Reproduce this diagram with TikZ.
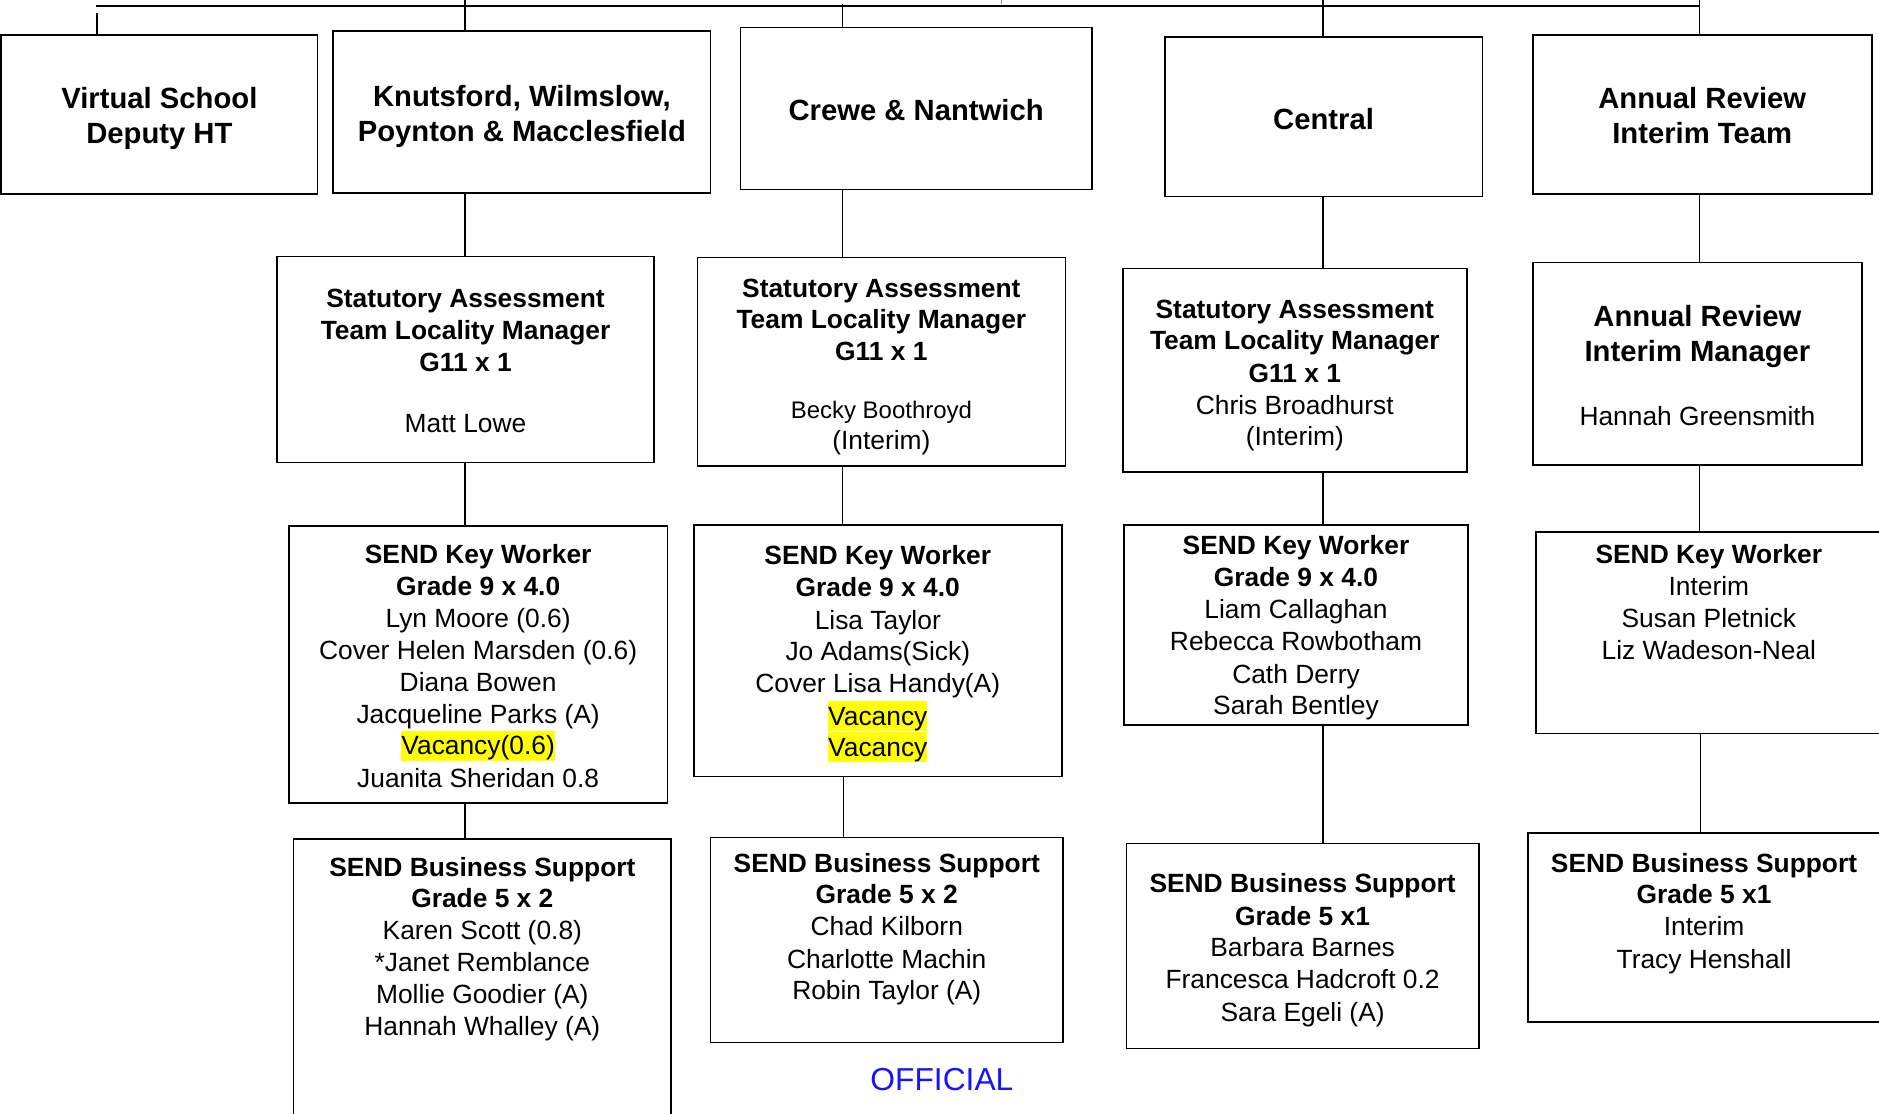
\documentclass[tikz,border=0pt]{standalone}
\usepackage{fontspec}
\setmainfont{Liberation Sans}
\definecolor{offblue}{RGB}{20,20,255}
\definecolor{hl}{RGB}{255,255,0}
\definecolor{tickblue}{RGB}{91,155,213}
\tikzset{
  box/.style={draw, line width=1.4pt, inner sep=0pt},
  conn/.style={line width=1.2pt},
  txt/.style={anchor=base, inner sep=0pt},
  hd/.style={txt, font=\fontsize{24.4}{29}\bfseries},
  bd/.style={txt, font=\fontsize{22}{26.6}\bfseries},
  rg/.style={txt, font=\fontsize{22}{26.6}\selectfont},
  sm/.style={txt, font=\fontsize{20}{24}\selectfont},
  hlt/.style={fill=hl, text height=19.9pt, text depth=4.7pt},
}
\begin{document}
\begin{tikzpicture}[x=1pt,y=-1pt]
\useasboundingbox (0,0) rectangle (1568,929.6);
\clip (0,0) rectangle (1568,929.6);

% ---------- boxes ----------
\node[box, minimum width=264pt, minimum height=133pt] (vs) at (133,95.5) {};
\node[box, minimum width=315pt, minimum height=135pt] (kn) at (435.5,93.5) {};
\node[box, minimum width=293pt, minimum height=135pt] (cr) at (764.5,90.5) {};
\node[box, minimum width=265pt, minimum height=133pt] (ce) at (1104.5,97.5) {};
\node[box, minimum width=283pt, minimum height=133pt] (ar) at (1420.5,95.5) {};

\node[box, minimum width=315pt, minimum height=172pt] (sat1) at (388.5,300) {};
\node[box, minimum width=307pt, minimum height=174pt] (sat2) at (735.5,302) {};
\node[box, minimum width=287pt, minimum height=170pt] (sat3) at (1080.5,309) {};
\node[box, minimum width=275pt, minimum height=169pt] (arim) at (1416.5,303.5) {};

\node[box, minimum width=316pt, minimum height=231pt] (skw1) at (399,554.5) {};
\node[box, minimum width=307pt, minimum height=210pt] (skw2) at (732.5,543) {};
\node[box, minimum width=287pt, minimum height=167pt] (skw3) at (1081.5,521.5) {};
\node[box, minimum width=288pt, minimum height=168pt] (skw4) at (1426,528) {};

\node[box, minimum width=315pt, minimum height=245pt] (sbs1) at (402.5,822.5) {};
\node[box, minimum width=294pt, minimum height=171pt] (sbs2) at (740,784.5) {};
\node[box, minimum width=294pt, minimum height=171pt] (sbs3) at (1087,789.5) {};
\node[box, minimum width=295pt, minimum height=158pt] (sbs4) at (1422.5,774) {};

% ---------- connectors ----------
\coordinate (tl) at (80,5);
\coordinate (tr) at (1418,5);
\coordinate (v0) at (81,11);
\coordinate (k0) at (388,0);
\coordinate (c0) at (703,3);
\coordinate (e0) at (1104,0);
\coordinate (a0) at (1418,0);
\draw[conn] (tl) -- (tr);
\draw[conn] (v0) -- (v0 |- vs.north);
\draw[conn] (k0) -- (k0 |- kn.north);
\draw[conn] (c0) -- (c0 |- cr.north);
\draw[conn] (e0) -- (e0 |- ce.north);
\draw[conn] (a0) -- (a0 |- ar.north);

\draw[conn] (kn.south -| k0) -- (sat1.north -| k0);
\draw[conn] (sat1.south -| k0) -- (skw1.north -| k0);
\draw[conn] (skw1.south -| k0) -- (sbs1.north -| k0);

\draw[conn] (cr.south -| c0) -- (sat2.north -| c0);
\draw[conn] (sat2.south -| c0) -- (skw2.north -| c0);
\coordinate (c1) at (704,0);
\draw[conn] (skw2.south -| c1) -- (sbs2.north -| c1);

\draw[conn] (ce.south -| e0) -- (sat3.north -| e0);
\draw[conn] (sat3.south -| e0) -- (skw3.north -| e0);
\draw[conn] (skw3.south -| e0) -- (sbs3.north -| e0);

\draw[conn] (ar.south -| a0) -- (arim.north -| a0);
\draw[conn] (arim.south -| a0) -- (skw4.north -| a0);
\coordinate (a1) at (1419,0);
\draw[conn] (skw4.south -| a1) -- (sbs4.north -| a1);

% tiny fragment at top
\draw[tickblue, line width=1pt] (836,0) -- (836,3);

% ---------- row 1 texts ----------
\node[hd] (tvs1) at (133,90.7) {Virtual School};
\node[hd] (tvs2) at (133,119.7) {Deputy HT};
\node[hd] (tkn1) at (435.5,88.7) {Knutsford, Wilmslow,};
\node[hd] (tkn2) at (435.5,117.7) {Poynton \& Macclesfield};
\node[hd] (tcr) at (764.5,100.7) {Crewe \& Nantwich};
\node[hd] (tce) at (1104.5,107.7) {Central};
\node[hd] (tar1) at (1420.5,90.7) {Annual Review};
\node[hd] (tar2) at (1420.5,119.7) {Interim Team};

% ---------- row 2 ----------
\node[bd] (ts11) at (388.5,257) {Statutory Assessment};
\node[bd] (ts12) at (388.5,283.5) {Team Locality Manager};
\node[bd] (ts13) at (388.5,310) {G11 x 1};
\node[rg] (ts14) at (388.5,361) {Matt Lowe};

\node[bd] (ts21) at (735.5,248) {Statutory Assessment};
\node[bd] (ts22) at (735.5,274) {Team Locality Manager};
\node[bd] (ts23) at (735.5,301) {G11 x 1};
\node[sm] (ts24) at (735.5,349.5) {Becky Boothroyd};
\node[rg] (ts25) at (735.5,375) {(Interim)};

\node[bd] (ts31) at (1080.5,266) {Statutory Assessment};
\node[bd] (ts32) at (1080.5,292) {Team Locality Manager};
\node[bd] (ts33) at (1080.5,319) {G11 x 1};
\node[rg] (ts34) at (1080.5,346) {Chris Broadhurst};
\node[rg] (ts35) at (1080.5,372) {(Interim)};

\node[hd] (ta1) at (1416.5,272.7) {Annual Review};
\node[hd] (ta2) at (1416.5,301.7) {Interim Manager};
\node[rg] (ta3) at (1416.5,355) {Hannah Greensmith};

% ---------- row 3 ----------
\node[bd] (tk11) at (399,470) {SEND Key Worker};
\node[bd] (tk12) at (399,497) {Grade 9 x 4.0};
\node[rg] (tk13) at (399,524) {Lyn Moore (0.6)};
\node[rg] (tk14) at (399,550) {Cover Helen Marsden (0.6)};
\node[rg] (tk15) at (399,577) {Diana Bowen};
\node[rg] (tk16) at (399,604) {Jacqueline Parks (A)};
\node[rg,hlt] (tk17) at (399,630) {Vacancy(0.6)};
\node[rg] (tk18) at (399,657) {Juanita Sheridan 0.8};

\node[bd] (tk21) at (732.5,471) {SEND Key Worker};
\node[bd] (tk22) at (732.5,498) {Grade 9 x 4.0};
\node[rg] (tk23) at (732.5,525) {Lisa Taylor};
\node[rg] (tk24) at (732.5,551) {Jo Adams(Sick)};
\node[rg] (tk25) at (732.5,578) {Cover Lisa Handy(A)};
\node[rg,hlt] (tk26) at (732.5,605) {Vacancy};
\node[rg,hlt] (tk27) at (732.5,631) {Vacancy};

\node[bd] (tk31) at (1081.5,463) {SEND Key Worker};
\node[bd] (tk32) at (1081.5,489) {Grade 9 x 4.0};
\node[rg] (tk33) at (1081.5,516) {Liam Callaghan};
\node[rg] (tk34) at (1081.5,543) {Rebecca Rowbotham};
\node[rg] (tk35) at (1081.5,570) {Cath Derry};
\node[rg] (tk36) at (1081.5,596) {Sarah Bentley};

\node[bd] (tk41) at (1426,470) {SEND Key Worker};
\node[rg] (tk42) at (1426,497) {Interim};
\node[rg] (tk43) at (1426,524) {Susan Pletnick};
\node[rg] (tk44) at (1426,550) {Liz Wadeson-Neal};

% ---------- row 4 ----------
\node[bd] (tb11) at (402.5,731) {SEND Business Support};
\node[bd] (tb12) at (402.5,757) {Grade 5 x 2};
\node[rg] (tb13) at (402.5,784) {Karen Scott (0.8)};
\node[rg] (tb14) at (402.5,811) {*Janet Remblance};
\node[rg] (tb15) at (402.5,837) {Mollie Goodier (A)};
\node[rg] (tb16) at (402.5,864) {Hannah Whalley (A)};

\node[bd] (tb21) at (740,728) {SEND Business Support};
\node[bd] (tb22) at (740,754) {Grade 5 x 2};
\node[rg] (tb23) at (740,781) {Chad Kilborn};
\node[rg] (tb24) at (740,808) {Charlotte Machin};
\node[rg] (tb25) at (740,834) {Robin Taylor (A)};

\node[bd] (tb31) at (1087,745) {SEND Business Support};
\node[bd] (tb32) at (1087,772) {Grade 5 x1};
\node[rg] (tb33) at (1087,798) {Barbara Barnes};
\node[rg] (tb34) at (1087,825) {Francesca Hadcroft 0.2};
\node[rg] (tb35) at (1087,852) {Sara Egeli (A)};

\node[bd] (tb41) at (1422,728) {SEND Business Support};
\node[bd] (tb42) at (1422,754) {Grade 5 x1};
\node[rg] (tb43) at (1422,781) {Interim};
\node[rg] (tb44) at (1422,808) {Tracy Henshall};

% ---------- footer ----------
\node[txt, font=\fontsize{26.5}{30}\selectfont, text=offblue] (off) at (786,910) {OFFICIAL};
\end{tikzpicture}
\end{document}
